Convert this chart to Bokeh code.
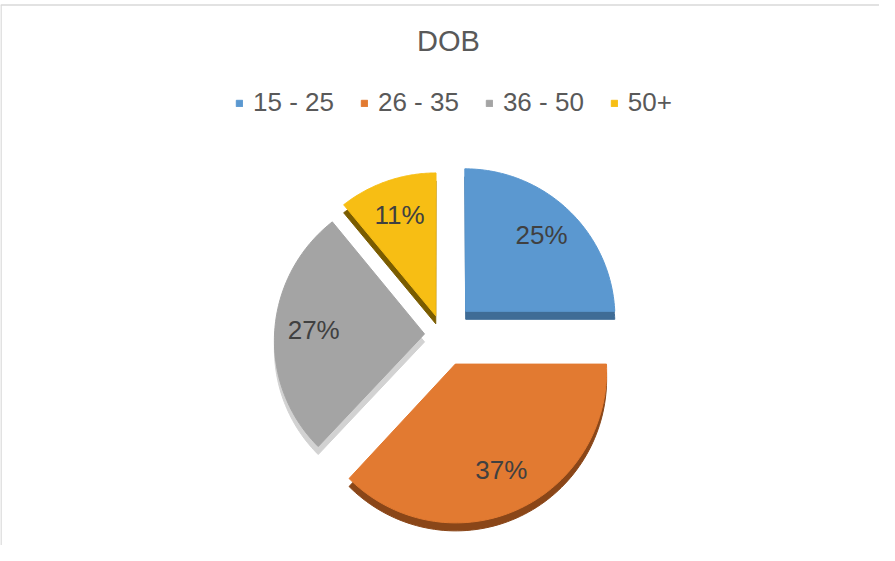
import numpy as np
from bokeh.plotting import figure
from bokeh.models import Range1d, ColumnDataSource, Legend, LegendItem
from bokeh.core.properties import value
from bokeh.embed import file_html
from bokeh.resources import INLINE

# ---- data ----
title_text = "DOB"
categories = ["15 - 25", "26 - 35", "36 - 50", "50+"]
percents = [25, 37, 27, 11]

# ---- styles ----
top_colors = ["#5B98D0", "#E27A31", "#A4A4A4", "#F7BE14"]
side_colors = ["#3F6C96", "#8A4618", "#D2D2D2", "#7A5C00"]
explode = [33, 32, 18, 20]      # per-slice explosion (px)

# ---- layout (page pixel coordinates) ----
W, H = 879, 545
X0, Y0 = 8, 8
cx, cy = 450, 342      # pie centre
R = 150                # radius
k = 1.0                # vertical squash (tilt)
persp = 0.04           # mild perspective
thick = 8
label_r = 0.74

p = figure(width=W, height=H, output_backend="svg", toolbar_location=None,
           x_range=Range1d(X0, X0 + W), y_range=Range1d(Y0 + H, Y0),
           min_border=0, outline_line_color=None)
p.axis.visible = False
p.grid.visible = False
p.background_fill_color = "white"
p.border_fill_color = "white"

def project(u, v):
    s = 1.0 / (1.0 + persp * v / R)
    return cx + u * s, cy - k * v * s

vals = np.array(percents, dtype=float)
frac = vals / vals.sum()
ends = np.cumsum(frac) * 2 * np.pi
starts = ends - frac * 2 * np.pi

xs_top, ys_top, xs_side, ys_side = [], [], [], []
lx, ly, ltxt = [], [], []
for i, (a0, a1) in enumerate(zip(starts, ends)):
    m = 0.5 * (a0 + a1)
    ou, ov = explode[i] * np.sin(m), explode[i] * np.cos(m)
    th = np.linspace(a0, a1, 80)
    u = np.concatenate([[ou], ou + R * np.sin(th)])
    v = np.concatenate([[ov], ov + R * np.cos(th)])
    X, Y = project(u, v)
    xs_top.append(list(X)); ys_top.append(list(Y))
    xs_side.append(list(X)); ys_side.append(list(Y + thick))
    LX, LY = project(ou + label_r * R * np.sin(m), ov + label_r * R * np.cos(m))
    lx.append(LX); ly.append(LY); ltxt.append(f"{int(round(percents[i]))}%")

side_src = ColumnDataSource(dict(xs=xs_side, ys=ys_side, c=side_colors))
p.patches("xs", "ys", source=side_src, fill_color="c", line_color="c", line_width=1)

renderers = []
for i in range(len(categories)):
    r = p.patch(xs_top[i], ys_top[i], fill_color=top_colors[i],
                line_color=top_colors[i], line_width=1)
    renderers.append(r)

lab_src = ColumnDataSource(dict(x=lx, y=ly, t=ltxt))
p.text("x", "y", text="t", source=lab_src, text_align="center",
       text_baseline="middle", text_font=value("Liberation Sans"),
       text_font_size="26px", text_color="#404040")

# title
p.text(x=[456], y=[48.5], text=[title_text], text_align="center",
       text_baseline="middle", text_font=value("Liberation Sans"),
       text_font_size="29px", text_color="#595959")

# chart-area border (top and left)
p.segment(x0=[X0, X0 + 0.5], y0=[12.5, 12.5], x1=[X0 + W, X0 + 0.5], y1=[12.5, Y0 + H],
          line_color="#D9D9D9", line_width=1.5)

legend = Legend(items=[LegendItem(label=c, renderers=[r]) for c, r in zip(categories, renderers)],
                orientation="horizontal", location=(235, 427),
                padding=0, margin=0, spacing=26, label_standoff=10,
                glyph_width=8, glyph_height=8,
                label_text_font="Liberation Sans", label_text_font_size="26px",
                label_text_color="#595959", label_text_baseline="middle",
                border_line_color=None, background_fill_alpha=0)
p.add_layout(legend, "center")

open("out.html", "w").write(file_html(p, INLINE))
